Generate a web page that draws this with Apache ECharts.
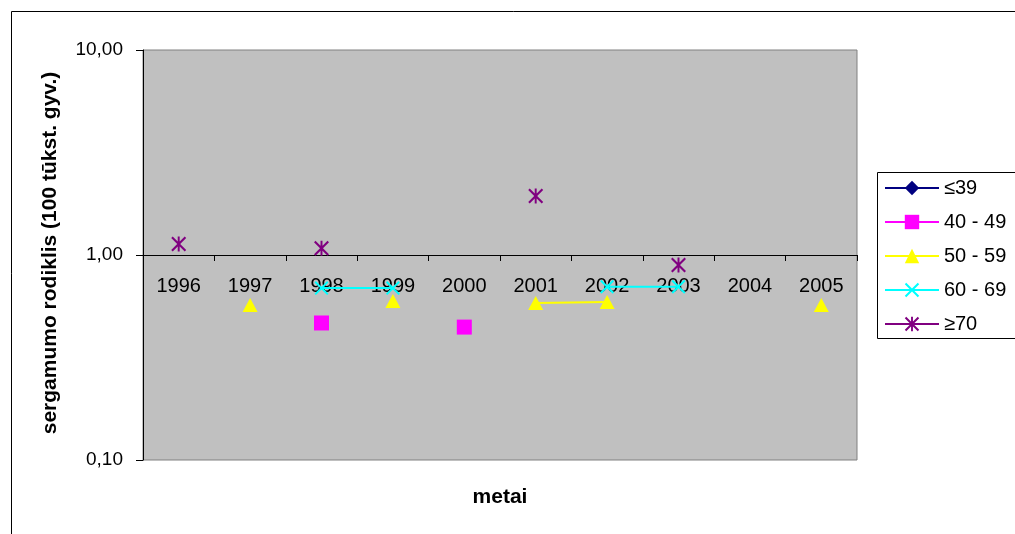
<!DOCTYPE html>
<html>
<head>
<meta charset="utf-8">
<script src="https://cdn.jsdelivr.net/npm/echarts@6/dist/echarts.min.js"></script>
<style>
  html, body { margin: 0; padding: 0; background: #ffffff; }
  #chart { width: 1015px; height: 534px; }
</style>
</head>
<body>
<div id="chart"></div>
<script>
// Sergamumo rodiklis pagal amžiaus grupes, 1996–2005 (100 tūkst. gyv.)
const years = ['1996', '1997', '1998', '1999', '2000', '2001', '2002', '2003', '2004', '2005'];
const seriesNames = ['≤39', '40 - 49', '50 - 59', '60 - 69', '≥70'];

const age39 = [null, null, null, null, null, null, null, null, null, null];
const age40to49 = [null, null, 0.466, null, 0.445, null, null, null, null, null];
const age50to59 = [null, 0.57, null, 0.597, null, 0.583, 0.59, null, null, 0.57];
const age60to69 = [null, null, 0.69, 0.69, null, null, 0.70, 0.70, null, null];
const age70 = [1.13, null, 1.08, null, null, 1.94, null, 0.894, null, null];

const yTicks = [0.1, 1, 10];

const FONT = 'Liberation Sans';
const CROSS = 'path://M1,0L5,4L9,0L10,1L6,5L10,9L9,10L5,6L1,10L0,9L4,5L0,1Z';
const STAR = 'path://M1,0L5,4L9,0L10,1L6,5L10,9L9,10L5,6L1,10L0,9L4,5L0,1Z M4.35,0L5.65,0L5.65,10L4.35,10Z';

function lineSeries(name, data, color, symbol, size) {
  return {
    name: name,
    type: 'line',
    data: data,
    symbol: symbol,
    symbolSize: size,
    showSymbol: true,
    connectNulls: false,
    color: color,
    lineStyle: { color: color, width: 2 },
    itemStyle: { color: color },
    emphasis: { disabled: true },
    animation: false
  };
}

const chart = echarts.init(document.getElementById('chart'), null, { renderer: 'canvas' });

chart.setOption({
  animation: false,
  backgroundColor: '#ffffff',
  textStyle: { fontFamily: FONT },
  graphic: [
    {
      type: 'rect', z: -10, silent: true,
      shape: { x: 11.5, y: 11.5, width: 1040, height: 560 },
      style: { fill: '#ffffff', stroke: '#000000', lineWidth: 1 }
    },
    {
      type: 'rect', z: 0, silent: true,
      shape: { x: 877.5, y: 172.5, width: 200, height: 166 },
      style: { fill: '#ffffff', stroke: '#000000', lineWidth: 1 }
    },
    {
      type: 'text', silent: true,
      x: 50, y: 253, rotation: Math.PI / 2,
      style: {
        text: 'sergamumo rodiklis (100 tūkst. gyv.)',
        font: 'bold 21px "' + FONT + '"',
        fill: '#000000', align: 'center', verticalAlign: 'middle'
      }
    },
    {
      type: 'text', silent: true,
      x: 500, y: 497,
      style: {
        text: 'metai',
        font: 'bold 21px "' + FONT + '"',
        fill: '#000000', align: 'center', verticalAlign: 'middle'
      }
    }
  ],
  grid: {
    left: 143, top: 50, right: 158, bottom: 74,
    show: true,
    backgroundColor: '#C0C0C0',
    borderColor: '#808080',
    borderWidth: 1,
    containLabel: false
  },
  legend: {
    orient: 'vertical',
    left: 884, top: 178,
    padding: 0,
    itemWidth: 54, itemHeight: 18, itemGap: 14,
    data: seriesNames,
    lineStyle: { width: 2 },
    textStyle: { fontSize: 20, color: '#000000', fontFamily: FONT },
    selectedMode: false,
    z: 5
  },
  xAxis: {
    type: 'category',
    data: years,
    position: 'bottom',
    offset: -205,
    boundaryGap: true,
    axisLine: { show: true, lineStyle: { color: '#000000', width: 1 } },
    axisTick: { show: true, length: 6, interval: 0, alignWithLabel: false, lineStyle: { color: '#000000' } },
    axisLabel: { interval: 0, fontSize: 20, color: '#000000', margin: 21, fontFamily: FONT },
    splitLine: { show: false }
  },
  yAxis: {
    type: 'log',
    logBase: 10,
    min: yTicks[0],
    max: yTicks[yTicks.length - 1],
    axisLine: { show: true, lineStyle: { color: '#000000', width: 1 } },
    axisTick: { show: true, length: 7, lineStyle: { color: '#000000' } },
    axisLabel: {
      fontSize: 19, color: '#000000', margin: 20, fontFamily: FONT,
      formatter: function (v) { return Number(v).toFixed(2).replace('.', ','); }
    },
    splitLine: { show: false }
  },
  series: [
    lineSeries(seriesNames[0], age39, '#000080', 'diamond', 13),
    lineSeries(seriesNames[1], age40to49, '#FF00FF', 'rect', 15),
    lineSeries(seriesNames[2], age50to59, '#FFFF00', 'triangle', [15, 14]),
    lineSeries(seriesNames[3], age60to69, '#00FFFF', CROSS, 14),
    lineSeries(seriesNames[4], age70, '#800080', STAR, 15)
  ]
});
</script>
</body>
</html>
